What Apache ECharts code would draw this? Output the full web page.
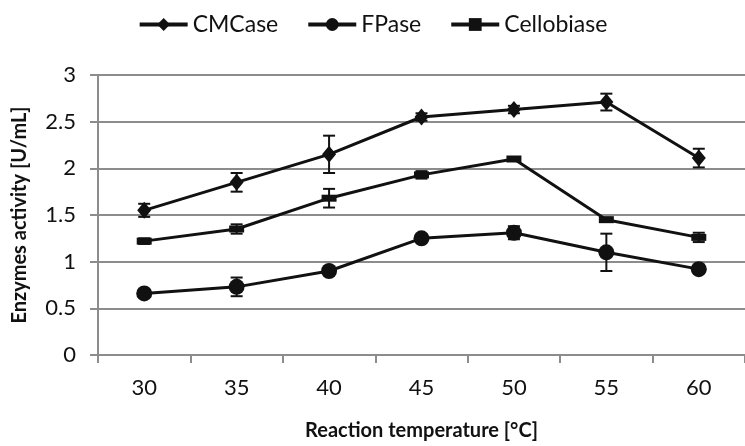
<!DOCTYPE html>
<html>
<head>
<meta charset="utf-8">
<script src="https://cdn.jsdelivr.net/npm/echarts@6/dist/echarts.min.js"></script>
<style>
    html, body { margin: 0; padding: 0; background: #fff; }
    #chart { width: 745px; height: 446px; }
</style>
</head>
<body>
<div id="chart"></div>
<script>
// 数据
var temps = ['30', '35', '40', '45', '50', '55', '60'];
var cmcase = [1.55, 1.85, 2.15, 2.55, 2.63, 2.71, 2.11];
var cmcaseErr = [0.07, 0.10, 0.20, 0.04, 0.04, 0.09, 0.10];
var fpase = [0.66, 0.73, 0.90, 1.25, 1.31, 1.10, 0.92];
var fpaseErr = [0.03, 0.10, 0.04, 0.04, 0.07, 0.20, 0.04];
var cello = [1.22, 1.35, 1.68, 1.93, 2.10, 1.45, 1.26];
var celloErr = [0.03, 0.05, 0.10, 0.04, 0.02, 0.02, 0.05];
var yTicks = [0, 0.5, 1, 1.5, 2, 2.5, 3];

var FONT = 'Lato, "Noto Sans", sans-serif';
var INK = '#111';
var GRID = '#8c8c8c';

function errData(vals, errs) {
    return vals.map(function (v, i) {
        return [i, v - errs[i], v + errs[i]];
    });
}

function renderErr(params, api) {
    var lo = api.coord([api.value(0), api.value(1)]);
    var hi = api.coord([api.value(0), api.value(2)]);
    var w = 6;
    var st = { stroke: INK, lineWidth: 2 };
    return {
        type: 'group',
        children: [
            { type: 'line', shape: { x1: lo[0], y1: lo[1], x2: hi[0], y2: hi[1] }, style: st },
            { type: 'line', shape: { x1: lo[0] - w, y1: lo[1], x2: lo[0] + w, y2: lo[1] }, style: st },
            { type: 'line', shape: { x1: hi[0] - w, y1: hi[1], x2: hi[0] + w, y2: hi[1] }, style: st }
        ]
    };
}

function lineSeries(name, data, symbol, size) {
    return {
        name: name,
        type: 'line',
        data: data,
        symbol: symbol,
        symbolSize: size,
        showAllSymbol: true,
        lineStyle: { color: INK, width: 3 },
        itemStyle: { color: INK },
        z: 3
    };
}

function errSeries(name, data) {
    return {
        name: name + ' err',
        type: 'custom',
        data: data,
        renderItem: renderErr,
        encode: { x: 0, y: [1, 2] },
        z: 4,
        silent: true
    };
}

var option = {
    animation: false,
    legend: {
        data: ['CMCase', 'FPase', 'Cellobiase'],
        top: 8,
        left: 'center',
        itemWidth: 48,
        itemHeight: 16,
        itemGap: 28,
        lineStyle: { width: 4 },
        textStyle: { fontFamily: FONT, fontSize: 23, color: INK }
    },
    grid: {
        left: 98,
        right: -11,
        top: 75,
        bottom: 85
    },
    xAxis: {
        type: 'category',
        data: temps,
        boundaryGap: true,
        name: 'Reaction temperature [°C]',
        nameLocation: 'middle',
        nameGap: 66,
        nameTextStyle: { fontFamily: FONT, fontSize: 20, fontWeight: 'bold', color: INK },
        axisLine: { lineStyle: { color: GRID, width: 2 } },
        axisTick: { show: true, length: 8, lineStyle: { color: GRID, width: 2 } },
        axisLabel: { fontFamily: FONT, fontSize: 22, color: INK, margin: 22 },
        splitLine: { show: false }
    },
    yAxis: {
        type: 'value',
        min: 0,
        max: 3,
        interval: 0.5,
        name: 'Enzymes activity [U/mL]',
        nameLocation: 'middle',
        nameGap: 68,
        nameTextStyle: { fontFamily: FONT, fontSize: 20, fontWeight: 'bold', color: INK },
        axisLine: { show: true, lineStyle: { color: GRID, width: 2 } },
        axisTick: { show: true, length: 8, lineStyle: { color: GRID, width: 2 } },
        axisLabel: {
            fontFamily: FONT, fontSize: 22, color: INK, margin: 22,
            formatter: function (v) { return yTicks.indexOf(v) >= 0 ? String(v) : ''; }
        },
        splitLine: { show: true, lineStyle: { color: GRID, width: 2 } }
    },
    series: [
        lineSeries('CMCase', cmcase, 'diamond', [14, 17]),
        lineSeries('FPase', fpase, 'circle', 16),
        lineSeries('Cellobiase', cello, 'rect', [15, 7]),
        errSeries('CMCase', errData(cmcase, cmcaseErr)),
        errSeries('FPase', errData(fpase, fpaseErr)),
        errSeries('Cellobiase', errData(cello, celloErr))
    ]
};

var myChart = echarts.init(document.getElementById('chart'));
myChart.setOption(option);
</script>
</body>
</html>
